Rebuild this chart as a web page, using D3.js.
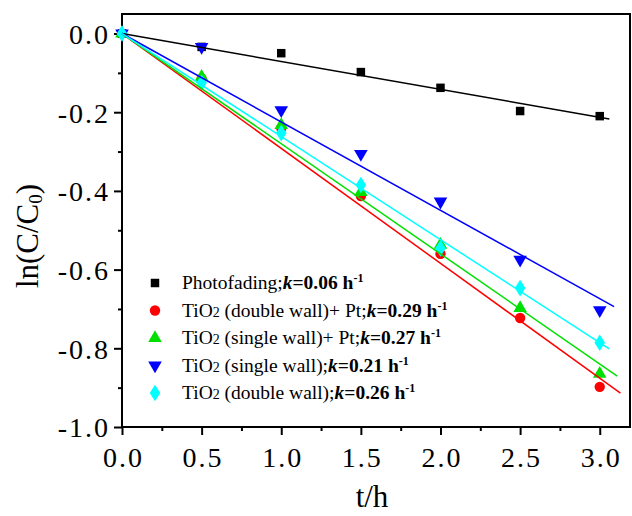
<!DOCTYPE html>
<html>
<head>
<meta charset="utf-8">
<script src="https://cdn.jsdelivr.net/npm/d3@7"></script>
<style>
	body { margin: 0; background: #fff; }
	text { font-family: "Liberation Serif", "Times New Roman", serif; }
</style>
</head>
<body>
<svg id="chart" width="632" height="516"></svg>
<script>

var times = [0, 0.5, 1.0, 1.5, 2.0, 2.5, 3.0];

var photofading = [0, -0.034, -0.050, -0.098, -0.138, -0.197, -0.210];
var dwPt        = [0, -0.115, -0.240, -0.413, -0.560, -0.723, -0.898];
var swPt        = [0, -0.110, -0.233, -0.403, -0.537, -0.698, -0.865];
var sw          = [0, -0.034, -0.195, -0.306, -0.427, -0.575, -0.703];
var dw          = [0, -0.125, -0.253, -0.385, -0.546, -0.647, -0.786];

var fitSlopes   = [-0.071, -0.292, -0.280, -0.2246, -0.262];
var fitEnds     = [3.06, 3.13, 3.11, 3.09, 3.06];
var kValues     = ["0.06", "0.29", "0.27", "0.21", "0.26"];
var colors      = ["#000000", "#ff0000", "#00e000", "#0000ff", "#00ffff"];
var shapes      = ["square", "circle", "up", "down", "diamond"];

var xTicks = [0, 0.5, 1.0, 1.5, 2.0, 2.5, 3.0];
var yTicks = [0, -0.2, -0.4, -0.6, -0.8, -1.0];

var values = [photofading, dwPt, swPt, sw, dw];

var svg = d3.select("#chart");

var x = d3.scaleLinear().domain([0, 3.19]).range([122, 630]);
var y = d3.scaleLinear().domain([-1.0, 0.0496]).range([427, 14]);

var fmt = function(d) { return d3.format(".1f")(d).replace("\u2212", "-"); };

// frame
svg.append("rect")
	.attr("x", 122).attr("y", 14)
	.attr("width", 508).attr("height", 413)
	.attr("fill", "none").attr("stroke", "#000").attr("stroke-width", 2);

// axes
var xAxis = svg.append("g").attr("transform", "translate(0,427)")
	.call(d3.axisBottom(x).tickValues(xTicks).tickFormat(fmt).tickSize(8).tickSizeOuter(0));
var xMinor = svg.append("g").attr("transform", "translate(0,427)")
	.call(d3.axisBottom(x).tickValues([0.25, 0.75, 1.25, 1.75, 2.25, 2.75]).tickFormat("").tickSize(4).tickSizeOuter(0));

var yAxis = svg.append("g").attr("transform", "translate(122,0)")
	.call(d3.axisLeft(y).tickValues(yTicks).tickFormat(fmt).tickSize(8).tickSizeOuter(0));
var yMinor = svg.append("g").attr("transform", "translate(122,0)")
	.call(d3.axisLeft(y).tickValues([-0.1, -0.3, -0.5, -0.7, -0.9]).tickFormat("").tickSize(4).tickSizeOuter(0));

[xAxis, xMinor, yAxis, yMinor].forEach(function(g) {
	g.select(".domain").remove();
	g.selectAll(".tick line").attr("stroke-width", 2);
	g.attr("font-family", null);
});

xAxis.selectAll("text").attr("font-size", 28).attr("dy", "1.05em").attr("dx", 1).attr("fill", "#000")
	.style("letter-spacing", "2px");
yAxis.selectAll("text").attr("font-size", 28).attr("x", -12).attr("dy", "0.35em").attr("fill", "#000")
	.style("letter-spacing", "2px");

// axis labels
svg.append("text")
	.attr("x", 372).attr("y", 507)
	.attr("text-anchor", "middle")
	.attr("font-size", 31)
	.text("t/h");

var yl = svg.append("text")
	.attr("transform", "translate(38,236) rotate(-90)")
	.attr("text-anchor", "middle")
	.attr("font-size", 31);
yl.append("tspan").text("ln(C/C");
yl.append("tspan").attr("font-size", 19).attr("dy", 4).text("0");
yl.append("tspan").attr("dy", -4).text(")");

function symbolFor(shape) {
	if ( shape == "square" ) return d3.symbol().type(d3.symbolSquare).size(72);
	if ( shape == "circle" ) return d3.symbol().type(d3.symbolCircle).size(85);
	if ( shape == "diamond" ) return d3.symbol().type(d3.symbolDiamond).size(80);
	return d3.symbol().type(d3.symbolTriangle).size(80);
}

function markerTransform(shape, px, py) {
	if ( shape == "down" ) return "translate(" + px + "," + py + ") rotate(180)";
	if ( shape == "diamond" ) return "translate(" + px + "," + py + ") scale(1.1,1)";
	return "translate(" + px + "," + py + ")";
}

// markers
for ( var s = 0; s < values.length; ++s ) {

	svg.append("g").selectAll("path")
		.data(values[s])
		.enter().append("path")
		.attr("d", symbolFor(shapes[s]))
		.attr("transform", function(d, i) { return markerTransform(shapes[s], x(times[i]), y(d)); })
		.attr("fill", colors[s]);
}

// fitted lines
var line = d3.line().x(function(d) { return x(d[0]); }).y(function(d) { return y(d[1]); });

for ( var s = 0; s < values.length; ++s ) {

	svg.append("path")
		.datum([[0, 0], [fitEnds[s], fitSlopes[s] * fitEnds[s]]])
		.attr("d", line)
		.attr("fill", "none")
		.attr("stroke", colors[s])
		.attr("stroke-width", 1.5);
}

// legend
var legendLabels = [
	{ name: "Photofading;", tio: false },
	{ name: " (double wall)+ Pt;", tio: true },
	{ name: " (single wall)+ Pt;", tio: true },
	{ name: " (single wall);", tio: true },
	{ name: " (double wall);", tio: true }
];

var legend = svg.append("g");

legendLabels.forEach(function(item, i) {

	var ly = 283 + i * 27.5;

	legend.append("path")
		.attr("d", symbolFor(shapes[i]))
		.attr("transform", markerTransform(shapes[i], 155, ly))
		.attr("fill", colors[i]);

	var t = legend.append("text")
		.attr("x", 182).attr("y", ly + 6)
		.attr("font-size", 19.5)
		.attr("fill", "#000");

	if ( item.tio ) {
		t.append("tspan").text("TiO");
		t.append("tspan").attr("font-size", 14).text("2");
	}
	t.append("tspan").text(item.name);
	t.append("tspan").attr("font-weight", "bold").attr("font-style", "italic").text("k");
	t.append("tspan").attr("font-weight", "bold").text("=" + kValues[i] + " h");
	t.append("tspan").attr("font-weight", "bold").attr("font-size", 12).attr("dy", -7).text("-1");
});

</script>
</body>
</html>
